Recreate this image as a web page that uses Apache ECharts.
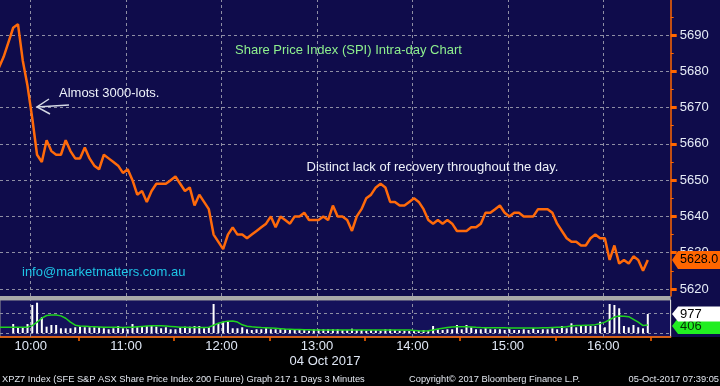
<!DOCTYPE html>
<html><head><meta charset="utf-8">
<script src="https://cdn.jsdelivr.net/npm/echarts@6/dist/echarts.min.js"></script>
<style>html,body{margin:0;padding:0;background:#000;}#c{width:720px;height:386px;}</style>
</head><body><div id="c"></div>
<script>
// 3-minute bars starting 09:40 (minutes after midnight)
const startMinute = 580;
const stepMinutes = 3;

const price = [
5681,5684,5688,5692,5693,5683,5676,5667,5657,5655,
5661,5658,5657,5657,5661,5658,5656,5656,5659,5656,
5654,5653,5657,5656,5655,5654,5652,5653,5650,5646,
5647,5644,5647,5649,5649,5649,5650,5651,5649,5647,
5648,5643,5646,5644,5642,5635,5633,5631,5635,5637,
5635,5635,5634,5635,5636,5637,5638,5640,5637,5640,
5639,5638,5640,5640,5641,5639,5639,5639,5640,5639,
5643,5640,5640,5639,5636,5640,5642,5645,5646,5648,
5649,5648,5644,5644,5643,5643,5644,5645,5644,5642,
5639,5638,5639,5638,5639,5638,5636,5636,5636,5637,
5637,5638,5641,5641,5642,5643,5641,5640,5641,5641,
5640,5640,5640,5642,5642,5642,5641,5638,5636,5634,
5633,5633,5632,5632,5634,5635,5634,5634,5628,5632,
5627,5628,5627,5629,5628,5625,5628
];

const volume = [
0,0,0,463,293,293,463,1439,1557,807,
324,411,411,242,242,242,293,324,293,293,
293,293,242,190,242,360,242,190,463,293,
360,360,360,324,242,293,190,190,293,324,
324,360,360,242,293,1491,499,581,581,242,
242,293,190,154,190,190,242,190,190,190,
190,154,154,154,190,118,190,190,190,190,
190,190,154,154,221,154,154,118,154,154,
118,190,190,154,118,118,100,100,118,154,
118,360,190,154,190,190,411,190,411,293,
190,190,242,190,190,190,154,190,154,154,
190,154,242,154,190,190,242,190,360,242,
499,293,360,360,360,360,581,293,1491,1439,
1270,360,293,411,293,242,977
];

const volumeAvg = [
293,293,293,293,293,293,300,380,560,760,
900,925,925,880,760,560,400,360,350,330,
320,310,300,300,290,290,280,290,300,320,
340,360,375,375,370,360,340,320,300,290,
280,280,280,280,300,400,500,570,610,617,
560,420,350,320,300,280,270,260,240,220,
200,190,180,175,170,165,160,160,155,155,
154,154,154,154,154,154,154,154,154,154,
154,154,154,154,154,154,150,130,110,103,
110,150,200,240,280,310,320,324,320,310,
290,280,275,270,270,265,265,260,260,260,
260,257,257,260,265,270,280,290,300,320,
360,380,390,400,410,430,480,560,680,820,
874,860,838,700,560,380,406
];

const priceTicks = [5620,5630,5640,5650,5660,5670,5680,5690];
const priceMinorTicks = [5625,5635,5645,5655,5665,5675,5685,5695];
const hourTicks = [600,660,720,780,840,900,960];
const halfHourTicks = [630,690,750,810,870,930,990];
const volumeGridValues = [0,1000];

const lastPriceText = '5628.0';
const lastVolumeText = '977';
const lastAvgText = '406';

const titleText = 'Share Price Index (SPI) Intra-day Chart';
const note1 = 'Almost 3000-lots.';
const note2 = 'Distinct lack of recovery throughout the day.';
const emailText = 'info@marketmatters.com.au';
const dateText = '04 Oct 2017';
const footerLeft = 'XPZ7 Index (SFE S&P ASX Share Price Index 200 Future) Graph 217 1 Days 3 Minutes';
const footerMid = 'Copyright\u00A9 2017 Bloomberg Finance L.P.';
const footerRight = '05-Oct-2017 07:39:05';

const times = price.map((_, i) => startMinute + stepMinutes * i);
const pricePts = price.map((v, i) => [times[i], v]);
const volPts = volume.map((v, i) => [times[i], v]);
const avgPts = volumeAvg.map((v, i) => [times[i], v]);

const NAVY = '#0f0c4b';
const VNAVY = '#14115a';
const ORANGE = '#ff6600';
const FONT = '"Liberation Sans", Arial, sans-serif';
const GRIDC = '#8e8ea4';
const X_MIN = 580.7, X_MAX = 1002.4;

function hhmm(v) {
  const h = Math.floor(v / 60), m = Math.round(v % 60);
  return (h < 10 ? '0' : '') + h + ':' + (m < 10 ? '0' : '') + m;
}

const chart = echarts.init(document.getElementById('c'), null, {renderer: 'canvas'});

const dashed = {color: GRIDC, width: 1, type: [3, 3]};

chart.setOption({
  animation: false,
  backgroundColor: '#000',
  grid: [
    {left: 0, top: 0, width: 670.7, height: 296, show: true, backgroundColor: NAVY, borderWidth: 0},
    {left: 0, top: 300, width: 670.7, height: 37, show: true, backgroundColor: VNAVY, borderColor: '#9a9a9a', borderWidth: 1}
  ],
  xAxis: [
    {type: 'value', gridIndex: 0, min: X_MIN, max: X_MAX, show: false, splitLine: {show: false}},
    {type: 'value', gridIndex: 1, min: X_MIN, max: X_MAX, position: 'bottom',
     axisLine: {show: true, onZero: false, lineStyle: {color: ORANGE, width: 1.5}},
     axisTick: {show: true, customValues: halfHourTicks, length: 4, lineStyle: {color: ORANGE, width: 1.5}},
     axisLabel: {show: true, customValues: hourTicks, formatter: hhmm, color: '#dfe7f5', fontSize: 13, fontFamily: FONT, margin: 3},
     splitLine: {show: false}}
  ],
  yAxis: [
    {type: 'value', gridIndex: 0, min: 5618.07, max: 5699.65, position: 'right',
     axisLine: {show: true, lineStyle: {color: ORANGE, width: 1.5}},
     axisTick: {show: true, inside: false, customValues: priceTicks, length: 6, lineStyle: {color: ORANGE, width: 3}},
     axisLabel: {show: true, customValues: priceTicks, formatter: v => String(Math.round(v)), color: '#e6ecf7', fontSize: 13, fontFamily: FONT, margin: 9},
     splitLine: {show: false}},
    {type: 'value', gridIndex: 0, min: 5618.07, max: 5699.65, position: 'right',
     axisLine: {show: false},
     axisTick: {show: true, customValues: priceMinorTicks, length: 3, lineStyle: {color: ORANGE, width: 1}},
     axisLabel: {show: false}, splitLine: {show: false}},
    {type: 'value', gridIndex: 1, min: -206, max: 1696, position: 'right',
     axisLine: {show: true, lineStyle: {color: '#d8d8d8', width: 1}},
     axisTick: {show: false}, axisLabel: {show: false}, splitLine: {show: false}}
  ],
  series: [
    {type: 'line', xAxisIndex: 0, yAxisIndex: 0, data: [pricePts[0]], symbol: 'none', lineStyle: {opacity: 0}, silent: true, z: 1,
     markLine: {silent: true, symbol: 'none', z: 1, label: {show: false}, lineStyle: dashed, animation: false,
       data: hourTicks.map(v => ({xAxis: v})).concat(priceTicks.map(v => ({yAxis: v})))}},
    {type: 'line', xAxisIndex: 1, yAxisIndex: 2, data: [volPts[0]], symbol: 'none', lineStyle: {opacity: 0}, silent: true, z: 1,
     markLine: {silent: true, symbol: 'none', z: 1, label: {show: false}, lineStyle: dashed, animation: false,
       data: hourTicks.map(v => ({xAxis: v})).concat(volumeGridValues.map(v => ({yAxis: v})))}},
    {type: 'bar', xAxisIndex: 1, yAxisIndex: 2, data: volPts, barWidth: 2, itemStyle: {color: '#ffffff'}, z: 3, silent: true},
    {type: 'line', xAxisIndex: 1, yAxisIndex: 2, data: avgPts, symbol: 'none', lineStyle: {color: '#1fd21f', width: 1.5}, z: 4, silent: true},
    {type: 'line', xAxisIndex: 0, yAxisIndex: 0, data: pricePts, symbol: 'none', lineStyle: {color: '#ff6a0a', width: 2.5}, z: 5, silent: true}
  ]
});

const yLast = chart.convertToPixel({yAxisIndex: 0}, price[price.length - 1]);
const yVol = chart.convertToPixel({yAxisIndex: 2}, volume[volume.length - 1]);
const yAvg = chart.convertToPixel({yAxisIndex: 2}, volumeAvg[volumeAvg.length - 1]);

function txt(x, y, text, fill, size, align) {
  return {type: 'text', x: x, y: y, z: 50, silent: true,
    style: {text: text, fill: fill, fontSize: size, fontFamily: FONT,
      textAlign: align || 'left', textVerticalAlign: 'middle', align: align || 'left', verticalAlign: 'middle'}};
}
function tag(yc, half, fill, text, color, z, size) {
  return [
    {type: 'polygon', z: z, silent: true, shape: {points: [[672, yc], [678, yc - half], [720, yc - half], [720, yc + half], [678, yc + half]]}, style: {fill: fill}},
    {type: 'text', x: 680, y: yc, z: z + 1, silent: true, style: {text: text, fill: color, fontSize: size || 13, fontFamily: FONT, textAlign: 'left', textVerticalAlign: 'middle', align: 'left', verticalAlign: 'middle'}}
  ];
}

chart.setOption({
  graphic: [
    {type: 'rect', z: -10, silent: true, shape: {x: 0, y: 0, width: 720, height: 337}, style: {fill: NAVY}},
    {type: 'rect', z: 40, silent: true, shape: {x: 0, y: 296, width: 670.7, height: 4}, style: {fill: '#a9a9a9'}},
    txt(235, 50, titleText, '#8ef08e', 13),
    txt(59, 93, note1, '#eef2fa', 13),
    txt(306.5, 167, note2, '#eef2fa', 13),
    txt(22, 272, emailText, '#1ec4e6', 13),
    {type: 'polyline', z: 50, silent: true, shape: {points: [[69, 105], [37, 107]]}, style: {stroke: '#d4d8e4', lineWidth: 1.5}},
    {type: 'polyline', z: 50, silent: true, shape: {points: [[49, 99], [37, 107], [50, 114]]}, style: {stroke: '#d4d8e4', lineWidth: 1.5, fill: null}},
    ...tag(yLast, 9, ORANGE, lastPriceText, '#000', 60, 12.5),
    ...tag(yAvg + 1, 8, '#22ee22', lastAvgText, '#063006', 60),
    ...tag(yVol, 7.5, '#ffffff', lastVolumeText, '#000', 62),
    txt(325, 361.5, dateText, '#dfe7f5', 13, 'center'),
    txt(2, 379, footerLeft, '#e2e6ee', 9.3),
    txt(409, 379, footerMid, '#e2e6ee', 9.3),
    txt(719, 379, footerRight, '#e2e6ee', 9.3, 'right')
  ]
});
</script>
</body></html>
